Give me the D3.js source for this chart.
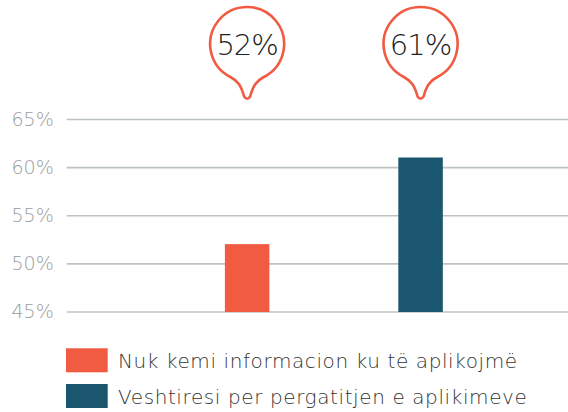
<!DOCTYPE html>
<html>
<head>
<meta charset="utf-8">
<script src="https://cdn.jsdelivr.net/npm/d3@7"></script>
<style>
  html, body { margin: 0; padding: 0; background: #fff; }
  svg { display: block; }
</style>
</head>
<body>
<svg id="chart" width="568" height="412"></svg>
<script>
// Survey categories and their shares (%)
const categories = ["Nuk kemi informacion ku të aplikojmë", "Veshtiresi per pergatitjen e aplikimeve"];
const values = [52, 61];
const colors = ["#f05b42", "#1b566f"];
const yTicks = [45, 50, 55, 60, 65];

const svg = d3.select("#chart");
const font = "'DejaVu Sans', sans-serif";

const y = d3.scaleLinear().domain([45, 65]).range([311.5, 119]);
const x = d3.scaleBand()
  .domain(categories)
  .range([66.7, 601])
  .paddingInner(0.7435)
  .paddingOuter(0.912);

// Horizontal gridlines with percentage labels
const yAxis = d3.axisLeft(y)
  .tickValues(yTicks)
  .tickSize(-(568 - 66.7))
  .tickPadding(13)
  .tickFormat(d => d + "%");

const axisG = svg.append("g")
  .attr("transform", "translate(66.7,0)")
  .call(yAxis);
axisG.select(".domain").remove();
axisG.selectAll(".tick line")
  .attr("stroke", "#bcc3c3")
  .attr("stroke-width", 1.6);
axisG.selectAll(".tick text")
  .attr("fill", "#959e9e")
  .style("font-family", font)
  .style("font-size", "19px")
  .style("font-weight", 300);

// Bars
svg.append("g").selectAll("rect")
  .data(categories)
  .join("rect")
  .attr("x", d => x(d))
  .attr("width", x.bandwidth())
  .attr("y", (d, i) => y(values[i]))
  .attr("height", (d, i) => y(45) - y(values[i]) + 0.5)
  .attr("fill", (d, i) => colors[i]);

// Callout bubbles above each bar
const r = 37, cy = 44, tipY = 99.5;
function bubblePath(cx) {
  const jy = 77, jx = Math.sqrt(r * r - (jy - cy) * (jy - cy));
  return `M${cx + jx},${jy}` +
    ` A${r},${r} 0 1 0 ${cx - jx},${jy}` +
    ` C${cx - 9},${jy + 4} ${cx - 6},${jy + 9} ${cx - 3},${tipY - 3}` +
    ` Q${cx},${tipY + 1.5} ${cx + 3},${tipY - 3}` +
    ` C${cx + 6},${jy + 9} ${cx + 9},${jy + 4} ${cx + jx},${jy} Z`;
}

const bubbles = svg.append("g").selectAll("g")
  .data(categories)
  .join("g");

bubbles.append("path")
  .attr("d", d => bubblePath(x(d) + x.bandwidth() / 2))
  .attr("fill", "#fff")
  .attr("stroke", "#f05b42")
  .attr("stroke-width", 2.6);

bubbles.append("text")
  .attr("x", d => x(d) + x.bandwidth() / 2)
  .attr("y", cy + 11)
  .attr("text-anchor", "middle")
  .attr("fill", "#222")
  .style("font-family", font)
  .style("font-size", "29px")
  .style("font-weight", 200)
  .style("letter-spacing", "-1px")
  .text((d, i) => values[i] + "%");

// Legend
const legend = svg.append("g").selectAll("g")
  .data(categories)
  .join("g")
  .attr("transform", (d, i) => `translate(66,${348.3 + i * 35.7})`);

legend.append("rect")
  .attr("width", 41.7)
  .attr("height", 24)
  .attr("fill", (d, i) => colors[i]);

legend.append("text")
  .attr("x", 52)
  .attr("y", 19.5)
  .attr("fill", "#333")
  .style("font-family", font)
  .style("font-size", "20px")
  .style("font-weight", 300)
  .style("letter-spacing", "0.6px")
  .text(d => d);
</script>
</body>
</html>
